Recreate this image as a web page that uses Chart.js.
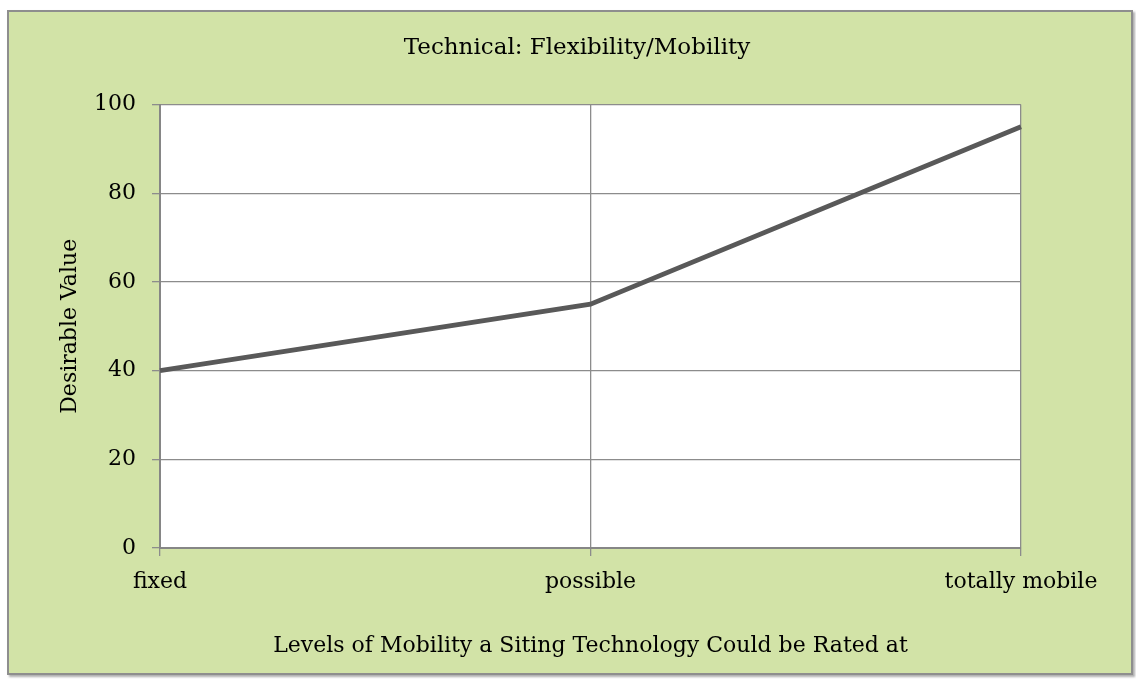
<!DOCTYPE html>
<html>
<head>
<meta charset="utf-8">
<script src="https://cdn.jsdelivr.net/npm/chart.js@4"></script>
<style>
  html, body { margin: 0; padding: 0; background: #ffffff; }
  #wrap { position: relative; width: 1136px; height: 679px; }
  #frame { position: absolute; left: 7px; top: 10px; width: 1122px; height: 661px;
           background: #d2e3a7; border: 2px solid #8e8e8e;
           box-shadow: 2px 2px 2px rgba(120,120,120,0.6); }
  #c { position: absolute; left: 0; top: 0; }
</style>
</head>
<body>
<div id="wrap">
  <div id="frame"></div>
  <canvas id="c" width="1136" height="679"></canvas>
</div>
<script>
const categories = ["fixed", "possible", "totally mobile"];
const desirableValues = [40, 55, 95];
const yTicks = [0, 20, 40, 60, 80, 100];
const chartTitle = "Technical: Flexibility/Mobility";
const xTitle = "Levels of Mobility a Siting Technology Could be Rated at";
const yTitle = "Desirable Value";

const FONT = "'DejaVu Serif', serif";
const GRID = "#8c8c8c";

const plotBg = {
  id: 'plotBg',
  beforeDraw(chart) {
    const {ctx, chartArea: a} = chart;
    ctx.save();
    ctx.fillStyle = '#ffffff';
    ctx.fillRect(a.left, a.top, a.right - a.left, a.bottom - a.top);
    ctx.restore();
  }
};

new Chart(document.getElementById('c'), {
  type: 'line',
  data: {
    labels: categories,
    datasets: [{
      data: desirableValues,
      borderColor: '#595959',
      borderWidth: 4.8,
      pointRadius: 0,
      tension: 0,
      fill: false
    }]
  },
  options: {
    responsive: false,
    animation: false,
    devicePixelRatio: 1,
    layout: { padding: { left: 18, right: 0, top: 0, bottom: 0 } },
    plugins: {
      legend: { display: false },
      tooltip: { enabled: false },
      title: {
        display: true,
        text: chartTitle,
        color: '#000000',
        font: { family: FONT, size: 23, weight: 'normal', lineHeight: 1.2 },
        padding: { top: 34, bottom: 43 }
      }
    },
    scales: {
      x: {
        type: 'category',
        offset: false,
        grid: { display: true, color: GRID, lineWidth: 1.3, drawTicks: true, tickLength: 8 },
        border: { display: true, color: '#868686', width: 2 },
        ticks: { color: '#000000', font: { family: FONT, size: 22 }, padding: 13, maxRotation: 0, autoSkip: false },
        title: { display: true, text: xTitle, color: '#000000', font: { family: FONT, size: 22 }, padding: { top: 0, bottom: 20 } },
        afterFit(scale) { scale.height = 131; }
      },
      y: {
        min: 0, max: 100,
        afterBuildTicks(scale) { scale.ticks = yTicks.map(v => ({ value: v })); },
        grid: { display: true, color: GRID, lineWidth: 1.3, drawTicks: true, tickLength: 8 },
        border: { display: true, color: '#868686', width: 2 },
        ticks: { color: '#000000', font: { family: FONT, size: 22 }, padding: 16 },
        title: { display: true, text: yTitle, color: '#000000', font: { family: FONT, size: 22 }, padding: { top: 39, bottom: 0 } },
        afterFit(scale) { scale.width = 142; }
      },
      yRight: {
        position: 'right',
        display: true,
        grid: { display: false, drawTicks: false },
        border: { display: false },
        ticks: { display: false },
        afterFit(scale) { scale.width = 115; }
      }
    }
  },
  plugins: [plotBg]
});
</script>
</body>
</html>
